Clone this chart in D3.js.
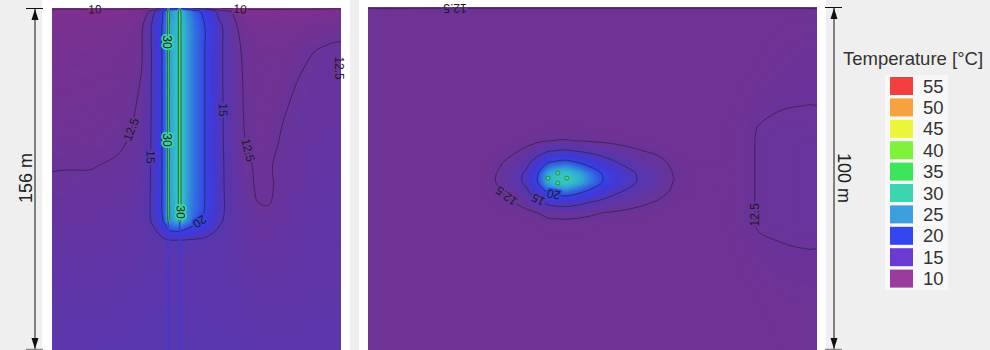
<!DOCTYPE html>
<html>
<head>
<meta charset="utf-8">
<script src="https://cdn.jsdelivr.net/npm/d3@7"></script>
<style>
  html, body { margin: 0; padding: 0; background: #efefef; overflow: hidden; }
  svg { display: block; font-family: "Liberation Sans", Arial, sans-serif; }
</style>
</head>
<body>
<svg id="chart" width="990" height="350"></svg>
<script>
// ---------- Vertical section through the borehole (x: 0..132 m, depth: 0..156 m) ----------
const sectionX = [0, 18, 30, 37, 41, 44.5, 48, 50.5, 52.3, 53.1, 53.9, 55.7, 57.5, 58.3, 59.1, 61.5, 65, 70, 76, 82, 88, 94, 99, 105, 113, 122, 132];
const sectionDepth = [0, 1.5, 8, 20, 35, 50, 62, 72, 82, 92, 97, 101, 106, 115, 135, 156];
// temperature [°C], one row per depth
const sectionTemp = [
  [9.6, 9.6, 9.6, 9.6, 9.6, 9.9, 11.5, 14.0, 17.0, 28, 18, 18, 19, 28, 19, 17, 14.5, 12.5, 10.05, 9.8, 9.6, 9.6, 9.6, 9.6, 9.6, 9.6, 9.6],
  [10.6, 10.6, 10.7, 10.8, 11.0, 12.6, 15.8, 19.5, 22, 36, 24, 25, 26, 36, 26.5, 24, 21.5, 18.5, 14.2, 12.5, 10.6, 10.5, 10.5, 10.5, 10.6, 10.7, 10.8],
  [11.0, 11.1, 11.3, 11.6, 12.2, 14.2, 17.2, 20.4, 23, 37, 25, 26, 27, 37, 27.5, 25, 22.5, 19.9, 15.8, 13.0, 11.8, 11.4, 11.3, 11.3, 11.5, 11.8, 12.0],
  [11.3, 11.4, 11.6, 11.9, 12.4, 14.2, 17.2, 20.4, 23, 37, 25, 26.5, 27.5, 37, 28, 25, 22.5, 19.9, 15.8, 13.3, 12.2, 11.8, 11.7, 11.8, 12.2, 12.6, 12.8],
  [11.6, 11.7, 11.9, 12.2, 12.6, 14.3, 17.2, 20.4, 23, 37, 25, 26.5, 27.5, 37, 28, 25, 22.5, 19.9, 15.8, 13.4, 12.35, 12.0, 11.9, 12.1, 12.6, 12.9, 13.0],
  [11.9, 12.0, 12.2, 12.45, 12.9, 14.4, 17.2, 20.4, 23, 37, 25, 26.5, 27.5, 37, 28, 25, 22.5, 19.9, 15.9, 13.5, 12.4, 12.1, 12.1, 12.45, 12.8, 13.0, 13.1],
  [12.1, 12.2, 12.35, 12.65, 13.0, 14.5, 17.2, 20.4, 23, 37, 25, 26.5, 27.5, 37, 28, 25, 22.5, 19.9, 15.9, 13.5, 12.55, 12.2, 12.25, 12.6, 12.9, 13.1, 13.2],
  [12.42, 12.45, 12.65, 12.9, 13.2, 14.6, 17.2, 20.4, 23, 37, 25, 26.5, 27.5, 37, 28, 25, 22.5, 19.9, 16.0, 13.6, 12.7, 12.35, 12.4, 12.75, 13.0, 13.2, 13.3],
  [12.7, 12.75, 12.9, 13.1, 13.4, 14.7, 17.2, 20.4, 23, 37, 25, 26.5, 27.5, 37, 28, 25, 22.5, 19.9, 16.0, 13.7, 12.9, 12.35, 12.3, 12.85, 13.1, 13.3, 13.4],
  [12.9, 13.0, 13.1, 13.3, 13.6, 14.8, 17.2, 20.4, 23, 37, 24.5, 26, 27, 37, 27.5, 24.5, 22.2, 19.8, 16.0, 13.8, 13.1, 12.58, 12.55, 13.0, 13.2, 13.4, 13.5],
  [13.0, 13.05, 13.2, 13.4, 13.7, 14.6, 16.8, 19.8, 22.5, 34, 24, 25, 26, 34, 26.5, 24, 21.5, 19.2, 15.6, 13.8, 13.2, 12.85, 12.8, 13.05, 13.25, 13.45, 13.55],
  [13.1, 13.1, 13.25, 13.45, 13.7, 13.9, 15.3, 17.0, 19.0, 20.5, 20.8, 21, 21.2, 20.8, 20.8, 19.8, 18.7, 17.0, 14.8, 13.7, 13.25, 12.95, 12.9, 13.1, 13.3, 13.5, 13.6],
  [13.2, 13.2, 13.3, 13.5, 13.7, 13.8, 14.0, 14.3, 14.6, 14.8, 14.9, 14.9, 14.9, 14.9, 14.85, 14.75, 14.55, 14.3, 14.0, 13.8, 13.3, 13.05, 13.0, 13.15, 13.35, 13.5, 13.6],
  [13.4, 13.4, 13.5, 13.6, 13.8, 13.85, 13.9, 14.0, 14.05, 14.1, 14.1, 14.1, 14.1, 14.1, 14.1, 14.05, 14.0, 13.95, 13.9, 13.85, 13.45, 13.25, 13.2, 13.3, 13.45, 13.55, 13.65],
  [13.8, 13.8, 13.9, 14.0, 14.1, 14.1, 14.15, 14.2, 14.2, 14.2, 14.2, 14.2, 14.2, 14.2, 14.2, 14.2, 14.15, 14.1, 14.05, 14.0, 13.8, 13.65, 13.6, 13.65, 13.7, 13.75, 13.8],
  [14.2, 14.2, 14.3, 14.3, 14.4, 14.4, 14.4, 14.4, 14.4, 14.4, 14.4, 14.4, 14.4, 14.4, 14.4, 14.4, 14.4, 14.35, 14.3, 14.3, 14.2, 14.1, 14.1, 14.1, 14.1, 14.1, 14.1]
];
// U-pipe legs in the section and their insulated lower part
const pipeSectionX = [53.1, 58.3];
const pipeInsulatedTop = 98;
const pipeInsulatedTemp = 17.5;

// ---------- Plan view around the borehole (x: 0..131 m, y: 0..100 m) ----------
const planX = [0, 20, 34, 38, 42, 46, 49.5, 52.5, 55.4, 58, 61, 64.5, 68.5, 73, 78.5, 84, 89, 95, 104, 110, 114, 120, 126, 131];
const planY = [0, 1.2, 15, 28, 36, 39, 42, 45, 48.4, 50, 51.3, 54, 57, 60, 63, 72, 86, 100];
const planTemp = [
  [12.7, 12.7, 12.7, 12.7, 12.7, 12.7, 12.7, 12.7, 12.7, 12.7, 12.7, 12.7, 12.7, 12.7, 12.7, 12.7, 12.7, 12.7, 12.7, 12.7, 12.7, 12.7, 12.7, 12.7],
  [12.05, 12.05, 12.05, 12.05, 12.05, 12.05, 12.05, 12.05, 12.05, 12.05, 12.05, 12.05, 12.05, 12.05, 12.05, 12.05, 12.05, 12.05, 12.05, 12.05, 12.05, 12.05, 12.05, 12.05],
  [12.0, 12.0, 12.0, 12.0, 12.0, 12.0, 12.0, 12.0, 12.0, 12.0, 12.0, 12.0, 12.0, 12.0, 12.0, 12.0, 12.0, 12.0, 12.0, 12.05, 12.1, 12.2, 12.3, 12.35],
  [12.0, 12.0, 12.0, 12.0, 12.0, 12.0, 12.0, 12.0, 12.0, 12.0, 12.0, 12.0, 12.0, 12.0, 12.0, 12.0, 12.0, 12.0, 12.05, 12.15, 12.3, 12.45, 12.48, 12.48],
  [12.0, 12.0, 12.0, 12.0, 12.01, 12.03, 12.07, 12.13, 12.14, 12.15, 12.13, 12.1, 12.07, 12.05, 12.03, 12.01, 12.0, 12.0, 12.1, 12.3, 12.55, 12.62, 12.65, 12.65],
  [12.0, 12.0, 12.0, 12.02, 12.05, 12.12, 12.27, 12.46, 12.53, 12.54, 12.48, 12.38, 12.27, 12.17, 12.1, 12.05, 12.02, 12.0, 12.1, 12.3, 12.58, 12.65, 12.7, 12.7],
  [12.0, 12.0, 12.02, 12.12, 12.3, 12.72, 13.64, 14.8, 15.2, 15.3, 14.9, 14.3, 13.62, 13.04, 12.6, 12.32, 12.1, 12.03, 12.1, 12.3, 12.58, 12.65, 12.7, 12.7],
  [12.0, 12.0, 12.05, 12.31, 12.78, 13.87, 16.26, 19.28, 20.32, 20.58, 19.54, 17.98, 16.21, 14.7, 13.56, 12.83, 12.26, 12.08, 12.1, 12.3, 12.58, 12.65, 12.7, 12.7],
  [12.0, 12.0, 12.09, 12.56, 13.41, 15.38, 19.71, 25.16, 27.04, 27.51, 25.63, 22.81, 19.61, 16.89, 14.82, 13.5, 12.47, 12.14, 12.1, 12.3, 12.58, 12.65, 12.7, 12.7],
  [12.0, 12.0, 12.1, 12.6, 13.5, 15.6, 20.2, 26.0, 28.0, 28.5, 26.5, 23.5, 20.1, 17.2, 15.0, 13.6, 12.52, 12.15, 12.1, 12.3, 12.58, 12.65, 12.7, 12.7],
  [12.0, 12.0, 12.1, 12.58, 13.44, 15.46, 19.87, 25.44, 27.36, 27.84, 25.92, 23.04, 19.78, 16.99, 14.88, 13.54, 12.48, 12.14, 12.1, 12.3, 12.58, 12.65, 12.7, 12.7],
  [12.0, 12.0, 12.06, 12.37, 12.92, 14.2, 17.0, 20.54, 21.76, 22.07, 20.85, 19.02, 16.94, 15.17, 13.83, 12.98, 12.31, 12.09, 12.1, 12.3, 12.58, 12.65, 12.7, 12.7],
  [12.0, 12.0, 12.03, 12.16, 12.39, 12.94, 14.13, 15.64, 16.16, 16.29, 15.77, 14.99, 14.11, 13.35, 12.78, 12.42, 12.13, 12.04, 12.1, 12.3, 12.58, 12.65, 12.7, 12.7],
  [12.0, 12.0, 12.01, 12.04, 12.09, 12.22, 12.49, 12.84, 12.96, 12.99, 12.87, 12.69, 12.49, 12.31, 12.18, 12.1, 12.03, 12.01, 12.1, 12.3, 12.58, 12.65, 12.7, 12.7],
  [12.0, 12.0, 12.0, 12.01, 12.02, 12.04, 12.1, 12.17, 12.19, 12.2, 12.17, 12.14, 12.1, 12.06, 12.04, 12.02, 12.01, 12.0, 12.1, 12.3, 12.58, 12.65, 12.7, 12.7],
  [12.0, 12.0, 12.0, 12.0, 12.0, 12.0, 12.0, 12.0, 12.0, 12.0, 12.0, 12.0, 12.0, 12.0, 12.0, 12.0, 12.0, 12.0, 12.05, 12.15, 12.3, 12.4, 12.45, 12.45],
  [12.0, 12.0, 12.0, 12.0, 12.0, 12.0, 12.0, 12.0, 12.0, 12.0, 12.0, 12.0, 12.0, 12.0, 12.0, 12.0, 12.0, 12.0, 12.0, 12.05, 12.1, 12.15, 12.2, 12.2],
  [12.0, 12.0, 12.0, 12.0, 12.0, 12.0, 12.0, 12.0, 12.0, 12.0, 12.0, 12.0, 12.0, 12.0, 12.0, 12.0, 12.0, 12.0, 12.0, 12.0, 12.05, 12.1, 12.1, 12.1]
];
// pipe cross-sections in the plan view (double U)
const pipePlanX = [52.5, 55.4, 58.0, 55.4];
const pipePlanY = [49.9, 48.4, 49.9, 51.3];
const pipePlanTemp = 34;

// ---------- Contour levels and their labels ----------
const sectionLevels = [10, 12.5, 15, 20, 30];
const planLevels = [12.5, 15, 20];
const sectionLabelValues = [10, 10, 30, 30, 30, 15, 15, 12.5, 12.5, 12.5, 20];
const planLabelValues = [12.5, 12.5, 15, 20, 12.5];

// ---------- Legend ----------
const legendTitle = "Temperature [°C]";
const legendValues = [55, 50, 45, 40, 35, 30, 25, 20, 15, 10];
const legendColors = ["#f23f3f", "#f6a23f", "#eaf53c", "#7ef33c", "#3ce65a", "#3dd4b0", "#3c9fe0", "#3446f2", "#6a3bd2", "#9a3c9e"];
const dimensionLabels = ["156 m", "100 m"];
const sectionSize = [132, 156];
const planSize = [131, 100];

// colour ramp used for the temperature field
const fieldStops = [10, 11, 12, 13, 14, 15, 17.5, 20, 22.5, 25, 27.5, 30, 35, 40, 45, 50, 55];
const fieldColors = ["#82308e", "#7a3090", "#6f3393", "#6534a0", "#5c36aa", "#5438b8", "#4238d6", "#3444e6", "#3272e0", "#32a2d8", "#34c2c4", "#38d4a6", "#3ce462", "#78f040", "#e8f53c", "#f5a142", "#f23c3c"];
const fieldColor = d3.scaleLinear().domain(fieldStops).range(fieldColors).clamp(true);

// label placement hints (data units + preferred reading angle)
const sectionLabelHints = [
  [19.6, 0.5, 0], [85.9, 0.5, 0], [53.0, 15.5, 90], [53.0, 60.2, 90], [58.4, 93.1, 90],
  [45.0, 68.0, 90], [78.6, 46.5, 90], [37.0, 55.7, -70], [89.5, 64.8, 80], [131.3, 27.4, 90], [67.6, 97.6, 135]
];
const planLabelHints = [
  [25.4, 0.3, 180], [40.6, 54.8, 215], [49.6, 56.3, 200], [54.0, 55.4, 190], [112.9, 60.6, -80]
];

const svg = d3.select("#chart");
const fillLevels = d3.range(9.5, 16, 0.1).concat(d3.range(16, 40.01, 0.25));

// white panel backgrounds
svg.append("rect").attr("x", 42).attr("y", 0).attr("width", 308).attr("height", 350).attr("fill", "#ffffff");
svg.append("rect").attr("x", 359).attr("y", 0).attr("width", 467).attr("height", 350).attr("fill", "#ffffff");

function drawField(o) {
  const { xs, ys, rows, xScale, yScale, levels, labelValues, hints, id } = o;
  const n = xs.length, m = ys.length;
  const values = rows.flat();
  const ix = d3.scaleLinear().domain(xs.map((_, i) => i + 0.5)).range(xs);
  const iy = d3.scaleLinear().domain(ys.map((_, j) => j + 0.5)).range(ys);
  const px = u => xScale(ix(u));
  const py = v => yScale(iy(v));
  const gen = d3.contours().size([n, m]).smooth(true);
  const line = d3.line().x(p => px(p[0])).y(p => py(p[1])).curve(d3.curveCatmullRomClosed.alpha(0.5));
  const pathOf = mp => mp.coordinates.flatMap(poly => poly.map(r => line(r.slice(0, -1)))).join("");
  const [x0, x1] = xScale.range();
  const [y0, y1] = yScale.range();

  svg.append("clipPath").attr("id", id).append("rect")
    .attr("x", x0).attr("y", y0).attr("width", x1 - x0).attr("height", y1 - y0);
  const g = svg.append("g").attr("clip-path", `url(#${id})`);

  g.append("rect").attr("x", x0).attr("y", y0).attr("width", x1 - x0).attr("height", y1 - y0)
    .attr("fill", fieldColor(d3.min(values)));

  g.append("g").selectAll("path")
    .data(fillLevels.map((t, i) => ({ t, mid: t + ((fillLevels[i + 1] ?? t + 0.25) - t) / 2 })))
    .join("path")
    .attr("d", d => pathOf(gen.contour(values, d.t)))
    .attr("fill", d => fieldColor(d.mid))
    .attr("fill-rule", "evenodd");

  g.append("g").selectAll("path").data(levels).join("path")
    .attr("d", v => pathOf(gen.contour(values, v)))
    .attr("fill", "none")
    .attr("stroke", "#2a1f3a")
    .attr("stroke-opacity", 0.85)
    .attr("stroke-width", 0.8);

  // put each label on the nearest point of its contour, aligned with the line
  const placed = labelValues.map((v, k) => {
    const [hx, hy, ha] = hints[k];
    const tx = xScale(hx), ty = yScale(hy);
    const mp = gen.contour(values, v);
    let best = null, bd = Infinity;
    mp.coordinates.forEach(poly => poly.forEach(ring => {
      const pts = ring.map(p => [px(p[0]), py(p[1])]);
      for (let q = 0; q < pts.length - 1; q++) {
        const a = pts[q], b = pts[q + 1];
        const dx = b[0] - a[0], dy = b[1] - a[1];
        const L2 = dx * dx + dy * dy;
        if (!L2) continue;
        let s = ((tx - a[0]) * dx + (ty - a[1]) * dy) / L2;
        s = Math.max(0, Math.min(1, s));
        const qx = a[0] + s * dx, qy = a[1] + s * dy;
        if (qx < x0 || qx > x1 || qy < y0 - 0.5 || qy > y1) continue;
        const d = Math.hypot(qx - tx, qy - ty);
        if (d < bd) { bd = d; best = { x: qx, y: qy, ang: Math.atan2(dy, dx) * 180 / Math.PI }; }
      }
    }));
    if (!best || bd > 14) return { v, x: tx, y: ty, ang: ha };
    const diff = a => Math.abs(((a - ha) % 360 + 540) % 360 - 180);
    const ang = diff(best.ang) <= diff(best.ang + 180) ? best.ang : best.ang + 180;
    return { v, x: best.x, y: best.y, ang };
  });

  g.append("g").selectAll("text").data(placed).join("text")
    .attr("transform", d => `translate(${d.x},${d.y}) rotate(${d.ang})`)
    .attr("text-anchor", "middle").attr("dy", "0.35em")
    .attr("font-size", 12)
    .attr("fill", "none")
    .attr("stroke", d => fieldColor(d.v))
    .attr("stroke-width", 3.5)
    .text(d => d3.format("")(d.v));

  svg.append("g").selectAll("text").data(placed).join("text")
    .attr("transform", d => `translate(${d.x},${d.y}) rotate(${d.ang})`)
    .attr("text-anchor", "middle").attr("dy", "0.35em")
    .attr("font-size", 12)
    .attr("fill", "#1a1a1a")
    .text(d => d3.format("")(d.v));

  return g;
}

// ---------- section view ----------
const xS = d3.scaleLinear().domain([0, sectionSize[0]]).range([52, 341]);
const yS = d3.scaleLinear().domain([0, sectionSize[1]]).range([8, 350]);
const gS = drawField({
  xs: sectionX, ys: sectionDepth, rows: sectionTemp, xScale: xS, yScale: yS,
  levels: sectionLevels, labelValues: sectionLabelValues, hints: sectionLabelHints, id: "clipSection"
});
gS.append("g").selectAll("line").data(pipeSectionX).join("line")
  .attr("x1", d => xS(d)).attr("x2", d => xS(d))
  .attr("y1", yS(pipeInsulatedTop)).attr("y2", yS(sectionSize[1]))
  .attr("stroke", fieldColor(pipeInsulatedTemp))
  .attr("stroke-width", 2);

// ---------- plan view ----------
const xP = d3.scaleLinear().domain([0, planSize[0]]).range([368, 817]);
const yP = d3.scaleLinear().domain([0, planSize[1]]).range([7, 350]);
const gP = drawField({
  xs: planX, ys: planY, rows: planTemp, xScale: xP, yScale: yP,
  levels: planLevels, labelValues: planLabelValues, hints: planLabelHints, id: "clipPlan"
});
gP.append("g").selectAll("circle").data(pipePlanX).join("circle")
  .attr("cx", d => xP(d)).attr("cy", (d, i) => yP(pipePlanY[i]))
  .attr("r", 2)
  .attr("fill", fieldColor(pipePlanTemp))
  .attr("stroke", "#2a1f3a").attr("stroke-opacity", 0.7).attr("stroke-width", 0.6);

// ---------- dimension arrows ----------
function dimension(x, yScale, label, side) {
  const [ya, yb] = yScale.range();
  const g = svg.append("g").attr("stroke", "#111").attr("fill", "#111");
  g.append("line").attr("x1", x).attr("x2", x).attr("y1", ya).attr("y2", yb).attr("stroke-width", 1);
  g.append("line").attr("x1", x - 9).attr("x2", x + 8).attr("y1", ya + 0.5).attr("y2", ya + 0.5).attr("stroke-width", 1);
  g.append("line").attr("x1", x - 9).attr("x2", x + 8).attr("y1", yb - 0.5).attr("y2", yb - 0.5).attr("stroke", "#888").attr("stroke-width", 1.5);
  g.append("path").attr("stroke", "none")
    .attr("d", `M${x},${ya + 1}L${x - 3.5},${ya + 12}L${x + 3.5},${ya + 12}Z`);
  g.append("path").attr("stroke", "none")
    .attr("d", `M${x},${yb - 1}L${x - 3.5},${yb - 12}L${x + 3.5},${yb - 12}Z`);
  const cy = 178;
  const tx = side < 0 ? x - 3 : x + 4;
  svg.append("text")
    .attr("transform", `translate(${tx},${cy}) rotate(${side < 0 ? -90 : 90})`)
    .attr("text-anchor", "middle")
    .attr("font-size", 18)
    .attr("fill", "#222")
    .text(label);
}
dimension(35, yS, dimensionLabels[0], -1);
dimension(834, yP, dimensionLabels[1], 1);

// ---------- legend ----------
const legend = svg.append("g");
legend.append("text").attr("x", 843).attr("y", 65).attr("font-size", 18.5).attr("fill", "#333").text(legendTitle);
legend.append("rect").attr("x", 885).attr("y", 75).attr("width", 63).attr("height", 215).attr("fill", "#f8f8f8");
const ly = d3.scalePoint().domain(legendValues).range([86, 278.6]);
legend.selectAll("rect.sw").data(legendValues).join("rect").attr("class", "sw")
  .attr("x", 890).attr("y", d => ly(d) - 9).attr("width", 23).attr("height", 18)
  .attr("fill", (d, i) => legendColors[i]);
legend.selectAll("text.lb").data(legendValues).join("text").attr("class", "lb")
  .attr("x", 923).attr("y", d => ly(d) + 6.5)
  .attr("font-size", 18.5).attr("fill", "#333")
  .text(d => d);
</script>
</body>
</html>
